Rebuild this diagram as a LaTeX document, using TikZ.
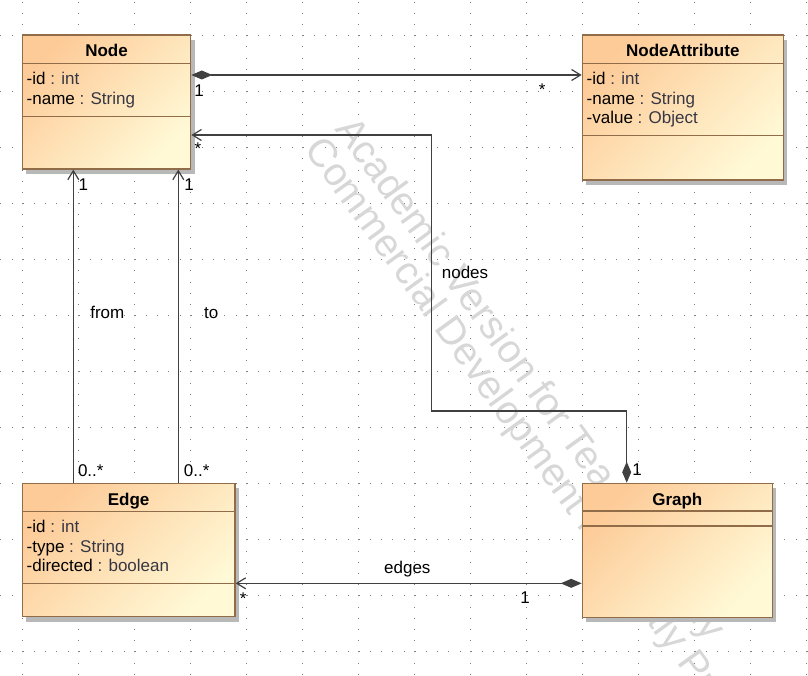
\documentclass[tikz,border=0pt]{standalone}
\usepackage{fontspec}
\setmainfont{Liberation Sans}
\usepackage{xcolor}
\usepackage{tikz}
\usetikzlibrary{
    positioning,
    arrows.meta,
    shadows
}
\definecolor{clstop}{RGB}{253,203,152}
\definecolor{clsbot}{RGB}{255,249,214}
\definecolor{clsline}{RGB}{145,108,72}
\definecolor{linkgray}{RGB}{64,64,64}
\definecolor{dotgray}{RGB}{125,125,125}
\definecolor{markgray}{RGB}{215,215,215}
\definecolor{typegray}{RGB}{55,55,68}

\tikzset{
    umlclass/.style={draw=clsline, line width=1.2pt, top color=clstop, bottom color=clsbot,
        shading angle=45, inner sep=0pt,
        drop shadow={shadow xshift=4pt, shadow yshift=-5pt, fill=black!28, opacity=1}},
    clsrule/.style={clsline, line width=1.2pt},
    clstitle/.style={font=\fontsize{17}{20}\selectfont\bfseries, inner sep=0pt, anchor=base},
    clsattr/.style={font=\fontsize{17}{20}\selectfont, inner sep=0pt, anchor=base west},
    link/.style={linkgray, line width=1.2pt},
    compdiamond/.tip={Diamond[length=21pt, width=9pt]},
    openhead/.tip={Straight Barb[length=9pt, width=11pt]},
    mult/.style={font=\fontsize{17}{20}\selectfont, inner sep=0pt},
    griddots/.style={dotgray, line width=1pt, dash pattern=on 1pt off 10.2pt},
    watermark/.style={text=markgray, font=\fontsize{39.5}{40}\selectfont, inner sep=0pt,
        anchor=base west, rotate=-54}
}

\begin{document}
\begin{tikzpicture}[x=1pt, y=-1pt]
    \useasboundingbox (0,0) rectangle (808,676);
    % 背景の点線グリッド
    \foreach \gx in {0,...,14}
        \draw[griddots] (22.7+56*\gx,1.7) -- (22.7+56*\gx,676);
    \foreach \gy in {0,...,11}
        \draw[griddots] (0.3,35.3+56*\gy) -- (808,35.3+56*\gy);
    \begin{scope}
        \clip (0,0) rectangle (808,676);
        \node[watermark] (markone) at (334,129) {Academic Version for Teaching Only};
        \node[watermark] (marktwo) at (303.2,148.9) {Commercial Development is Strictly Prohibited};
    \end{scope}

    % クラス
    \node[umlclass, minimum width=168.4pt, minimum height=134pt] (node) at (106.5,102) {};
    \node[umlclass, minimum width=201pt, minimum height=145pt] (nodeattr) at (682.8,107.5) {};
    \node[umlclass, minimum width=212.7pt, minimum height=133.4pt] (edge) at (128.65,550) {};
    \node[umlclass, minimum width=190pt, minimum height=134pt] (graph) at (677.3,550.3) {};
    \foreach \cls/\ya/\yb in {node/63.3/116.7, nodeattr/63.3/135.7, edge/511.7/583.3, graph/511/526}
        \draw[clsrule] (\cls.west |- 0,\ya) -- (\cls.east |- 0,\ya)
            (\cls.west |- 0,\yb) -- (\cls.east |- 0,\yb);

    \node[clstitle] (nodetitle) at (106.5,56.7) {Node};
    \node[clstitle] (nodeattrtitle) at (682.8,56.7) {NodeAttribute};
    \node[clstitle] (edgetitle) at (128.65,505) {Edge};
    \node[clstitle] (graphtitle) at (677.3,505) {Graph};
    \foreach \nm/\ty [count=\i from 0] in {-id/int, -name/String}
        \node[clsattr] (nodef\i) at (26.5,85+20*\i) {\nm\ \textcolor{typegray}{: \ty}};
    \foreach \nm/\ty [count=\i from 0] in {-id/int, -name/String, -value/Object}
        \node[clsattr] (nodeattrf\i) at (586.5,85+19.5*\i) {\nm\ \textcolor{typegray}{: \ty}};
    \foreach \nm/\ty [count=\i from 0] in {-id/int, -type/String, -directed/boolean}
        \node[clsattr] (edgef\i) at (26.5,532.7+19.5*\i) {\nm\ \textcolor{typegray}{: \ty}};

    % 関連
    \draw[link, {compdiamond}-{openhead}] (node.east |- 0,75) -- (nodeattr.west |- 0,75);
    \draw[link, {openhead}-{compdiamond}] (node.east |- 0,135) -| (431.7,411) -| (graph.north -| 626.7,0);
    \draw[link, -{openhead}] (edge.north -| 73.3,0) -- (node.south -| 73.3,0);
    \draw[link, -{openhead}] (edge.north -| 178.3,0) -- (node.south -| 178.3,0);
    \draw[link, {openhead}-{compdiamond}] (edge.east |- 0,583.3) -- (graph.west |- 0,583.3);

    \node[mult] (attrone) at (199,90.7) {1};
    \node[mult, anchor=base] (attrmany) at (542.3,95.9) {*};
    \node[mult, anchor=base] (nodesmany) at (198,155) {*};
    \node[mult] (nodesone) at (637,470) {1};
    \node[mult] (nodeslabel) at (465,272) {nodes};
    \node[mult] (fromone) at (83.3,185) {1};
    \node[mult] (toone) at (189,185) {1};
    \node[mult] (frommany) at (90.8,470.7) {0..*};
    \node[mult] (tomany) at (196.7,470.7) {0..*};
    \node[mult] (fromlabel) at (107.3,312.7) {from};
    \node[mult] (tolabel) at (211.3,312.7) {to};
    \node[mult] (edgeslabel) at (407.3,569.6) {edges};
    \node[mult] (edgesone) at (525,598) {1};
    \node[mult, anchor=base] (edgesmany) at (243.3,604) {*};
\end{tikzpicture}
\end{document}
